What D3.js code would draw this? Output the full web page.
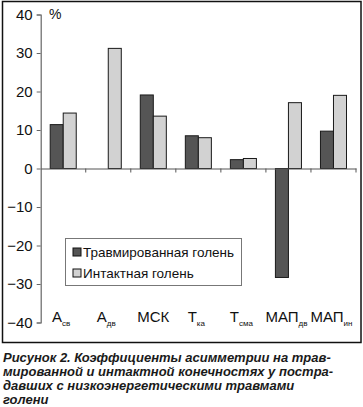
<!DOCTYPE html>
<html><head><meta charset="utf-8">
<script src="https://cdn.jsdelivr.net/npm/d3@7"></script>
<style>
html,body{margin:0;padding:0;background:#fff;}
svg{display:block;font-family:"Liberation Sans",Arial,sans-serif;}
</style></head>
<body>
<script>
const categories = [
  {main:"А", sub:"св"},
  {main:"А", sub:"дв"},
  {main:"МСК", sub:""},
  {main:"Т", sub:"ка"},
  {main:"Т", sub:"сма"},
  {main:"МАП", sub:"дв"},
  {main:"МАП", sub:"ин"}
];
const seriesNames = ["Травмированная голень", "Интактная голень"];
const injured = [11.4, 0, 19.1, 8.5, 2.3, -28.3, 9.7];
const intact = [14.4, 31.2, 13.6, 8.0, 2.6, 17.1, 19.0];
const yTicks = [-40, -30, -20, -10, 0, 10, 20, 30, 40];
const seriesColors = ["#555555", "#d2d2d2"];
const captionLines = [
  "Рисунок 2. Коэффициенты асимметрии на трав-",
  "мированной и интактной конечностях у постра-",
  "давших с низкоэнергетическими травмами",
  "голени"
];

const W = 363, H = 407;
const svg = d3.select("body").append("svg").attr("width", W).attr("height", H);

// outer frame
svg.append("rect").attr("x", 2.5).attr("y", 1.5).attr("width", 358.5).attr("height", 341)
  .attr("fill", "none").attr("stroke", "#111").attr("stroke-width", 1.5);

const catIdx = categories.map((d, i) => i);
const x = d3.scaleBand().domain(catIdx).range([40.7, 356]).padding(0);
const xs = d3.scaleBand().domain([0, 1]).range([0, x.bandwidth()]).paddingInner(0).paddingOuter(0.73);
const y = d3.scaleLinear().domain([-40, 40]).range([322.5, 14.5]);

const data = catIdx.map(i => [injured[i], intact[i]]);

// bars
const g = svg.append("g");
data.forEach((vals, i) => {
  vals.forEach((v, s) => {
    if (v === 0) return;
    g.append("rect")
      .attr("x", x(i) + xs(s))
      .attr("width", xs.bandwidth())
      .attr("y", y(Math.max(0, v)))
      .attr("height", Math.abs(y(v) - y(0)))
      .attr("fill", seriesColors[s])
      .attr("stroke", "#1a1a1a").attr("stroke-width", 1);
  });
});

// y axis
const yAxis = d3.axisLeft(y).tickValues(yTicks).tickSize(4).tickPadding(4)
  .tickFormat(d => d < 0 ? "\u2212" + Math.abs(d) : d);
const ya = svg.append("g").attr("transform", "translate(40.7,0)").call(yAxis);
ya.select(".domain").attr("stroke", "#666").attr("stroke-width", 1.2);
ya.selectAll(".tick line").attr("stroke", "#666");
ya.selectAll("text").attr("font-size", 15).attr("fill", "#111")
  .attr("font-family", "'Liberation Sans',Arial,sans-serif");

// zero line with category ticks
const xa = d3.axisBottom(x).tickValues([]).tickSizeOuter(0);
const za = svg.append("g").attr("transform", `translate(0,${y(0)})`).call(xa);
za.select(".domain").attr("stroke", "#555").attr("stroke-width", 1.2);
catIdx.slice(1).concat([7]).forEach(i => {
  const xx = i < 7 ? x(i) : x.range()[1];
  za.append("line").attr("x1", xx).attr("x2", xx).attr("y1", 0).attr("y2", 4)
    .attr("stroke", "#555").attr("stroke-width", 1);
});

// percent label
svg.append("text").attr("x", 49).attr("y", 19).attr("font-size", 14).attr("fill", "#111").text("%");

// category labels
categories.forEach((c, i) => {
  const t = svg.append("text").attr("x", x(i) + x.bandwidth() / 2 + (c.sub ? -2 : 0)).attr("y", 322)
    .attr("text-anchor", "middle").attr("font-size", 15).attr("fill", "#111");
  t.append("tspan").text(c.main);
  if (c.sub) t.append("tspan").attr("font-size", 8).attr("dy", 4).text(c.sub);
});

// legend
const lg = svg.append("g");
lg.append("rect").attr("x", 65.5).attr("y", 238.5).attr("width", 176).attr("height", 47)
  .attr("fill", "#fff").attr("stroke", "#777").attr("stroke-width", 1);
seriesNames.forEach((n, s) => {
  const yy = 248 + s * 21;
  lg.append("rect").attr("x", 73).attr("y", yy).attr("width", 8).attr("height", 8)
    .attr("fill", seriesColors[s]).attr("stroke", "#111").attr("stroke-width", 1);
  lg.append("text").attr("x", 83).attr("y", yy + 8.5).attr("font-size", 13.5).attr("fill", "#111").text(n);
});

// caption
captionLines.forEach((l, i) => {
  svg.append("text").attr("x", 3).attr("y", 361.5 + i * 14.3)
    .attr("font-size", 13).attr("font-weight", "bold").attr("font-style", "italic")
    .attr("fill", "#1a1a1a").text(l);
});
</script>
</body></html>
